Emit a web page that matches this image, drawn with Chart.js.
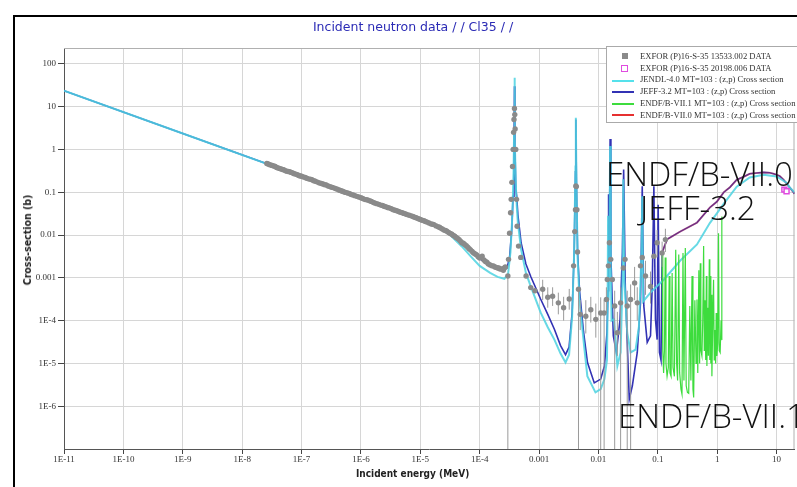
<!DOCTYPE html>
<html><head><meta charset="utf-8">
<script src="https://cdn.jsdelivr.net/npm/chart.js@4.4.1/dist/chart.umd.min.js"></script>
<style>
html,body{margin:0;padding:0;background:#fff;overflow:hidden;width:797px;height:487px}
#wrap{position:absolute;left:0;top:0;width:800px;height:487px}
#c{position:absolute;left:0;top:0}
.ov{position:absolute;white-space:nowrap}
#frame{position:absolute;left:13px;top:15px;width:800px;height:480px;border-left:2px solid #000;border-top:2px solid #000}
#title{left:413px;top:19px;transform:translateX(-50%);font:12.5px "DejaVu Sans",Verdana,sans-serif;color:#2b2bb5}
#xt{left:356px;top:468px;font:bold 10px "DejaVu Sans Condensed","DejaVu Sans",sans-serif;color:#222}
#yt{left:27px;top:240px;font:bold 10.5px "DejaVu Sans Condensed","DejaVu Sans",sans-serif;color:#222;transform:translate(-50%,-50%) rotate(-90deg)}
#legend{position:absolute;left:606px;top:46px;width:200px;height:77px;background:#fff;border:1px solid #aaa;box-sizing:border-box}
.lt{position:absolute;left:33px;font:8.6px "Liberation Serif","Times New Roman",serif;color:#333;line-height:10px}
.ls{position:absolute}
.big{position:absolute;white-space:nowrap;font-family:"Open Sans",sans-serif;font-weight:300;font-size:33px;line-height:33px;color:#111}
</style></head>
<body>
<div id="frame"></div>
<div id="wrap"><canvas id="c" width="800" height="487"></canvas></div>
<div class="ov" id="title">Incident neutron data / / Cl35 / /</div>
<div class="ov" id="xt">Incident energy (MeV)</div>
<div class="ov" id="yt">Cross-section (b)</div>
<div id="legend"></div>
<div class="big" style="left:606px;top:157px">ENDF/B-VII.0</div>
<div class="big" style="left:640px;top:191px">JEFF-3.2</div>
<div class="big" style="left:618px;top:399px">ENDF/B-VII.1</div>
<script>
// ---- tick labels ----
const xTickValues = [1e-11,1e-10,1e-9,1e-8,1e-7,1e-6,1e-5,1e-4,1e-3,1e-2,1e-1,1,10];
const xTickLabels = ['1E-11','1E-10','1E-9','1E-8','1E-7','1E-6','1E-5','1E-4','0.001','0.01','0.1','1','10'];
const yTickValues = [1e-6,1e-5,1e-4,1e-3,1e-2,1e-1,1,10,100];
const yTickLabels = ['1E-6','1E-5','1E-4','0.001','0.01','0.1','1','10','100'];

// ---- legend ----
const seriesNames = [
 'EXFOR  (P)16-S-35 13533.002 DATA',
 'EXFOR  (P)16-S-35 20198.006 DATA',
 'JENDL-4.0  MT=103 : (z,p) Cross section',
 'JEFF-3.2  MT=103 : (z,p) Cross section',
 'ENDF/B-VII.1  MT=103 : (z,p) Cross section',
 'ENDF/B-VII.0  MT=103 : (z,p) Cross section'
];

// ---- data: [energy (MeV), cross-section (b)] ----
const exfor13533 = [
 [2.6e-8,0.47],[2.75e-8,0.455],[2.9e-8,0.44],[3.05e-8,0.43],[3.2e-8,0.42],[3.4e-8,0.41],[3.6e-8,0.40],[3.8e-8,0.38],
 [4.0e-8,0.37],[4.25e-8,0.36],[4.5e-8,0.35],[4.75e-8,0.34],[5.0e-8,0.335],[5.3e-8,0.32],[5.6e-8,0.31],[5.95e-8,0.305],
 [6.3e-8,0.30],[6.7e-8,0.29],[7.1e-8,0.28],[7.5e-8,0.27],[8.0e-8,0.265],[8.5e-8,0.255],[9.0e-8,0.245],[9.5e-8,0.24],
 [1.0e-7,0.235],[1.07e-7,0.228],[1.15e-7,0.22],[1.22e-7,0.212],[1.3e-7,0.205],[1.4e-7,0.2],[1.5e-7,0.195],[1.6e-7,0.186],
 [1.7e-7,0.18],[1.85e-7,0.172],[2.0e-7,0.165],[2.15e-7,0.16],[2.3e-7,0.155],[2.45e-7,0.15],[2.6e-7,0.148],[2.8e-7,0.14],
 [3.0e-7,0.135],[3.2e-7,0.131],[3.4e-7,0.128],[3.7e-7,0.122],[4.0e-7,0.118],[4.25e-7,0.113],[4.5e-7,0.11],[4.75e-7,0.107],
 [5.0e-7,0.104],[5.35e-7,0.1],[5.7e-7,0.098],[6.1e-7,0.095],[6.5e-7,0.092],[6.9e-7,0.088],[7.4e-7,0.086],[7.9e-7,0.083],
 [8.5e-7,0.08],[9.2e-7,0.077],[1.0e-6,0.074],[1.07e-6,0.071],[1.15e-6,0.068],[1.22e-6,0.067],[1.3e-6,0.066],[1.4e-6,0.063],
 [1.5e-6,0.061],[1.6e-6,0.058],[1.7e-6,0.056],[1.85e-6,0.054],[2.0e-6,0.052],[2.15e-6,0.05],[2.3e-6,0.049],[2.45e-6,0.047],
 [2.6e-6,0.046],[2.8e-6,0.044],[3.0e-6,0.043],[3.25e-6,0.041],[3.5e-6,0.039],[3.75e-6,0.038],[4.0e-6,0.037],[4.3e-6,0.0355],
 [4.6e-6,0.034],[4.95e-6,0.033],[5.3e-6,0.032],[5.65e-6,0.031],[6.0e-6,0.030],[6.5e-6,0.029],[7.0e-6,0.028],[7.5e-6,0.027],
 [8.0e-6,0.026],[8.5e-6,0.0252],[9.0e-6,0.0245],[9.5e-6,0.0238],[1.0e-5,0.023],[1.07e-5,0.0222],[1.15e-5,0.0215],[1.22e-5,0.0207],
 [1.3e-5,0.020],[1.4e-5,0.0192],[1.5e-5,0.0182],[1.6e-5,0.0178],[1.7e-5,0.0175],[1.85e-5,0.0163],[2.0e-5,0.0155],[2.1e-5,0.0152],
 [2.2e-5,0.0145],[2.35e-5,0.0138],[2.5e-5,0.013],[2.65e-5,0.0127],[2.8e-5,0.0122],[3.0e-5,0.0114],[3.2e-5,0.0108],[3.4e-5,0.0104],
 [3.6e-5,0.0098],[3.8e-5,0.0094],[4.0e-5,0.0088],[4.25e-5,0.0083],[4.5e-5,0.0078],[4.75e-5,0.0072],[5.0e-5,0.0066],[5.3e-5,0.0064],
 [5.6e-5,0.006],[5.95e-5,0.0056],[6.3e-5,0.0052],[6.65e-5,0.0048],[7.0e-5,0.0045],[7.45e-5,0.0041],[7.9e-5,0.0038],[8.4e-5,0.0036],
 [8.9e-5,0.0034],[9.45e-5,0.0031],[1.0e-4,0.0029],[1.1e-4,0.0032],[1.18e-4,0.0026],[1.25e-4,0.0024],[1.32e-4,0.0023],[1.4e-4,0.0021],
 [1.5e-4,0.002],[1.6e-4,0.0019],[1.7e-4,0.0019],[1.8e-4,0.0018],[1.9e-4,0.00175],[2.0e-4,0.0017],[2.1e-4,0.0017],[2.2e-4,0.0016],
 [2.35e-4,0.0016],[2.5e-4,0.0015],[2.6e-4,0.0017],[2.7e-4,0.0018],[2.98e-4,0.0011],[3.06e-4,0.0027],[3.18e-4,0.011],[3.31e-4,0.033],
 [3.39e-4,0.068],[3.48e-4,0.17],[3.57e-4,0.4],[3.66e-4,1.0],[3.72e-4,2.5],[3.78e-4,5.0],[3.85e-4,9.0],[3.9e-4,6.5],
 [3.95e-4,3.0],[4.05e-4,1.0],[4.17e-4,0.068],[4.27e-4,0.016],[4.51e-4,0.0055],[4.92e-4,0.003],[6.04e-4,0.0011],[7.24e-4,5.9e-4],
 [8.5e-4,5e-4],[1.15e-3,5.4e-4],[1.40e-3,3.5e-4],[1.69e-3,3.7e-4],[2.11e-3,2.6e-4],[2.59e-3,2.0e-4],[3.22e-3,3.2e-4],[3.81e-3,1.9e-3],
 [3.99e-3,0.012],[4.1e-3,0.039],[4.16e-3,0.14],[4.24e-3,0.135],[4.33e-3,0.039],[4.44e-3,0.004],[4.61e-3,5.4e-4],[4.93e-3,1.4e-4],
 [6.12e-3,1.26e-4],[7.43e-3,1.8e-4],[9.02e-3,1.07e-4],[0.0109,1.5e-4],[0.01245,1.5e-4],[0.0136,3.1e-4],[0.0141,9.1e-4],[0.0147,1.9e-3],
 [0.0153,6.6e-3],[0.0161,2.7e-3],[0.0171,9.1e-4],[0.01875,2.2e-4],[0.0208,5.2e-5],[0.0236,2.6e-4],[0.0262,1.7e-3],[0.028,2.7e-3],
 [0.0305,2.2e-4],[0.0348,3.1e-4],[0.0406,7.6e-4],[0.045,2.6e-4],[0.051,1.9e-3],[0.0546,3e-3],[0.0619,1.1e-3],[0.0752,6.3e-4],
 [0.0857,3.2e-3],[0.0973,6.6e-3],[0.118,3.8e-3],[0.134,7.8e-3]
];
// [energy, lower, upper] uncertainty bars of the EXFOR 13533.002 points
const exforErrors = [
 [2.98e-4,1e-9,1.1e-3],[1.15e-3,3e-4,9e-4],[1.40e-3,2e-4,6e-4],[1.69e-3,2.2e-4,6e-4],[2.11e-3,1.4e-4,4.5e-4],
 [2.59e-3,1.0e-4,3.6e-4],[3.22e-3,1.8e-4,5.5e-4],[4.61e-3,1e-9,5.4e-4],[4.93e-3,6e-5,3e-4],[6.12e-3,5e-5,3e-4],
 [7.43e-3,9e-5,3.6e-4],[9.02e-3,4e-5,2.5e-4],[0.0109,1e-9,3.5e-4],[0.01245,1e-9,3e-4],[0.0136,1.5e-4,6e-4],
 [0.01875,1e-9,5e-4],[0.0208,1.5e-5,1.6e-4],[0.0236,1e-9,6e-4],[0.0305,1e-9,5e-4],[0.0348,1e-9,7e-4],
 [0.0406,3e-4,1.8e-3],[0.045,1e-4,6e-4],[0.0619,4e-4,2.5e-3],[0.0752,2.5e-4,1.4e-3],[0.0973,3e-3,1.3e-2],
 [0.118,1.8e-3,7e-3],[0.134,4e-3,1.4e-2]
];
const exfor20198 = [[13.5,0.115],[14.7,0.105]];

const jendl40 = [
 [1e-11,23.5],[1e-9,2.35],[1e-7,0.235],[1e-6,0.074],[1e-5,0.0232],[2e-5,0.0148],[3e-5,0.0108],[5e-5,0.0054],
 [7e-5,0.0032],[1e-4,0.0019],[1.5e-4,0.0013],[2.0e-4,0.00105],[2.6e-4,0.00095],[3.0e-4,0.0012],[3.3e-4,0.004],
 [3.55e-4,0.03],[3.72e-4,0.3],[3.8e-4,3],[3.85e-4,47],[3.92e-4,2],[4.05e-4,0.16],[4.2e-4,0.05],[4.39e-4,0.0195],
 [4.98e-4,0.0046],[6e-4,0.0013],[7.24e-4,6.3e-4],[1.06e-3,1.55e-4],[1.4e-3,7e-5],[1.81e-3,3.6e-5],[2.3e-3,1.7e-5],
 [2.79e-3,1.05e-5],[3.2e-3,1.6e-5],[3.6e-3,1.2e-4],[3.9e-3,0.004],[4.1e-3,0.4],[4.16e-3,5.5],[4.25e-3,0.2],
 [4.45e-3,0.003],[4.8e-3,3e-4],[5.74e-3,2.5e-5],[6.5e-3,5e-6],[8.9e-3,2.1e-6],[0.0109,2.5e-6],[0.0126,4.3e-6],
 [0.0139,1.2e-5],[0.0142,1.2e-4],[0.01452,0.028],[0.0148,3e-4],[0.0153,3e-3],[0.0157,1.2],[0.0161,2e-3],[0.0166,1e-4],
 [0.0183,1.07e-4],[0.0208,8.7e-6],[0.0236,1.8e-5],[0.0255,1e-3],[0.0262,0.2],[0.0272,1e-3],[0.0305,5.2e-5],
 [0.0348,1.8e-5],[0.0422,2.1e-5],[0.048,7.2e-5],[0.0531,3.9e-3],[0.0546,0.08],[0.0565,2.8e-4],[0.0752,4.5e-4],
 [0.1256,9e-4],[0.237,2.5e-3],[0.456,6e-3],[0.75,0.019],[0.986,0.032],[1.29,0.054],[2.13,0.135],[3.52,0.22],
 [6.04,0.257],[10,0.234],[14.7,0.166],[16.5,0.13],[19.2,0.105],[20,0.1]
];
const jeff32 = [
 [1e-11,23.5],[1e-9,2.35],[1e-7,0.235],[1e-6,0.074],[1e-5,0.0235],[2e-5,0.0155],[3e-5,0.0115],[5e-5,0.0064],
 [7e-5,0.0042],[1e-4,0.0028],[1.5e-4,0.0019],[2.0e-4,0.0016],[2.5e-4,0.00155],[2.9e-4,0.0017],[3.2e-4,0.0032],
 [3.45e-4,0.012],[3.65e-4,0.08],[3.78e-4,0.9],[3.85e-4,30],[3.92e-4,1.2],[4.05e-4,0.12],[4.2e-4,0.08],[4.39e-4,0.03],
 [4.98e-4,0.0066],[6e-4,0.0021],[7.24e-4,1.07e-3],[1.06e-3,3.2e-4],[1.4e-3,1.4e-4],[1.81e-3,6.3e-5],[2.3e-3,2.6e-5],
 [2.79e-3,1.6e-5],[3.2e-3,2.4e-5],[3.6e-3,1.5e-4],[3.9e-3,0.004],[4.1e-3,0.3],[4.16e-3,5.0],[4.25e-3,0.2],
 [4.45e-3,0.004],[4.8e-3,5e-4],[5.6e-3,5.5e-5],[6.53e-3,1.05e-5],[8.5e-3,3.5e-6],[0.0109,4.3e-6],[0.0126,8.7e-6],
 [0.0139,5.2e-5],[0.0145,5e-4],[0.0148,0.09],[0.0152,2e-3],[0.0157,1.74],[0.0162,3e-3],[0.0178,4.4e-5],[0.0200,1.8e-5],
 [0.0231,1.07e-4],[0.0253,3.9e-3],[0.02655,0.34],[0.0283,6.3e-4],[0.0330,1.45e-6],[0.0372,3e-6],[0.045,1.8e-5],
 [0.051,2.6e-4],[0.0546,0.138],[0.058,2.2e-4],[0.0662,3.1e-5],[0.0752,4.4e-5],[0.0804,6.3e-4],[0.0857,0.138],
 [0.0912,1.07e-4],[0.0973,3.6e-5],[0.1012,0.051],[0.1064,1.8e-5],[0.113,1.2e-5],[0.118,3.9e-3],[0.143,7.9e-3],
 [0.237,0.012],[0.456,0.0195],[0.753,0.044],[0.986,0.06],[1.29,0.10],[1.63,0.13],[2.13,0.195],[2.79,0.23],
 [3.52,0.27],[4.61,0.28],[6.04,0.29],[7.62,0.285],[8.89,0.27],[11.2,0.24],[13.1,0.195],[16.5,0.13],[19.2,0.10],[20,0.092]
];
const endfb70 = [
 [0.118,3.9e-3],[0.143,7.9e-3],[0.237,0.012],[0.456,0.0195],[0.753,0.044],[0.986,0.06],[1.29,0.10],[1.63,0.13],
 [2.13,0.195],[2.79,0.23],[3.52,0.27],[4.61,0.28],[6.04,0.29],[7.62,0.285],[8.89,0.27],[11.2,0.24],[13.1,0.195],
 [16.5,0.13],[19.2,0.10],[20,0.092]
];
const endfb71 = [
 [0.118,3.9e-3],[0.121,2e-5],[0.125,6e-6],[0.129,2e-5],[0.133,3.0e-3],[0.137,1e-5],[0.143,5e-6],[0.150,8e-6],
 [0.155,1.1e-3],[0.160,6e-6],[0.167,5e-6],[0.174,1.3e-3],[0.180,8e-6],[0.190,5e-6],[0.200,4.5e-3],[0.207,1e-5],
 [0.215,4e-6],[0.225,3.5e-3],[0.233,6e-6],[0.245,2.5e-6],[0.255,1.9e-6],[0.265,3.8e-3],[0.275,4e-6],[0.290,5e-3],
 [0.300,3e-6],[0.315,2.1e-6],[0.331,2e-6],[0.345,2.2e-4],[0.360,4e-6],[0.376,1.1e-3],[0.390,2.5e-6],[0.401,1.6e-6],
 [0.420,3e-4],[0.440,1e-5],[0.456,3.1e-4],[0.470,6e-6],[0.490,1.5e-3],[0.505,1e-5],[0.518,2.2e-3],[0.530,2e-5],
 [0.552,1.5e-5],[0.570,1e-4],[0.590,5.5e-3],[0.605,2e-5],[0.620,3e-4],[0.640,1.2e-5],[0.655,1.1e-3],[0.670,8.7e-6],
 [0.690,2e-4],[0.710,1.5e-5],[0.735,2.7e-3],[0.750,1.2e-5],[0.762,1.1e-3],[0.780,1e-5],[0.800,4e-4],[0.813,5e-6],
 [0.840,9e-5],[0.867,9e-4],[0.890,1.2e-5],[0.915,6e-5],[0.940,1e-5],[0.960,1.5e-4],[0.986,1.5e-5],[1.02,3e-5],
 [1.05,0.011],[1.08,2e-5],[1.12,1.8e-5],[1.16,1e-4],[1.19,0.027],[1.2,3.5e-5]
];

// ---- colours ----
const colExfor = '#8a8a8a', colExfor2 = '#e04ce0', colJendl = 'rgba(76,210,224,0.85)', colJeff = '#3232b4',
      colB71 = '#3ddc3d', colB70 = 'rgba(230,40,40,0.35)';

// legend build
const leg = document.getElementById('legend');
const symbols = [
 '<div class="ls" style="left:15px;top:6px;width:6px;height:6px;background:'+colExfor+'"></div>',
 '<div class="ls" style="left:14px;top:18px;width:5px;height:5px;border:1.5px solid '+colExfor2+'"></div>',
 '<div class="ls" style="left:5px;top:33px;width:22px;height:2px;background:#55e1eb"></div>',
 '<div class="ls" style="left:5px;top:44px;width:22px;height:2px;background:'+colJeff+'"></div>',
 '<div class="ls" style="left:5px;top:56px;width:22px;height:2px;background:'+colB71+'"></div>',
 '<div class="ls" style="left:5px;top:67px;width:22px;height:2px;background:#e63030"></div>'
];
let html = '';
seriesNames.forEach((n,i)=>{ html += symbols[i] + '<div class="lt" style="top:'+(4+i*11.7)+'px">'+n+'</div>'; });
leg.innerHTML = html;

const toXY = arr => arr.map(p => ({x:p[0], y:p[1]}));
const errPts = [];
exforErrors.forEach(e => { errPts.push({x:e[0],y:e[1]},{x:e[0],y:e[2]},{x:e[0],y:null}); });

function decadeLabel(v, vals, labels){
  for (let i=0;i<vals.length;i++){ if (Math.abs(Math.log10(v)-Math.log10(vals[i]))<1e-6) return labels[i]; }
  return null;
}
const gridCol = (vals, labels, col) => ctx => (ctx.tick && decadeLabel(ctx.tick.value, vals, labels)!==null) ? col : 'rgba(0,0,0,0)';

const framePlugin = {id:'frame', beforeDatasetsDraw(chart){
  const {ctx, chartArea:a} = chart; ctx.save(); ctx.strokeStyle='#b0b0b0'; ctx.lineWidth=1;
  ctx.beginPath(); ctx.moveTo(a.left, a.top+0.5); ctx.lineTo(a.right-0.5, a.top+0.5); ctx.lineTo(a.right-0.5, a.bottom); ctx.stroke(); ctx.restore();
}};

new Chart(document.getElementById('c'), {
  type:'scatter',
  data:{datasets:[
    {label:seriesNames[0], data:toXY(exfor13533), pointRadius:2.7, pointBackgroundColor:colExfor, pointBorderWidth:0, order:0},
    {label:seriesNames[1], data:toXY(exfor20198), pointStyle:'rect', pointRadius:3.5, pointBackgroundColor:'#fff', pointBorderColor:colExfor2, pointBorderWidth:1.5, order:0},
    {label:'err', data:errPts, showLine:true, pointRadius:0, borderColor:'#9a9a9a', borderWidth:1, spanGaps:false, order:1},
    {label:seriesNames[4], data:toXY(endfb71), showLine:true, pointRadius:0, borderColor:colB71, borderWidth:1.2, order:2},
    {label:seriesNames[2], data:toXY(jendl40), showLine:true, pointRadius:0, borderColor:colJendl, borderWidth:2, order:3},
    {label:seriesNames[5], data:toXY(endfb70), showLine:true, pointRadius:0, borderColor:colB70, borderWidth:2, order:4},
    {label:seriesNames[3], data:toXY(jeff32), showLine:true, pointRadius:0, borderColor:colJeff, borderWidth:1.6, order:5}
  ]},
  options:{
    responsive:false, animation:false, devicePixelRatio:1,
    layout:{padding:{left:0, top:48, right:2, bottom:0}},
    plugins:{legend:{display:false}, title:{display:false}, tooltip:{enabled:false}},
    scales:{
      x:{type:'logarithmic', min:1e-11, max:20, position:'bottom',
        afterFit(s){ s.height = 38; },
        border:{color:'#555', width:1},
        grid:{color:gridCol(xTickValues,xTickLabels,'#d6d6d6'), tickColor:gridCol(xTickValues,xTickLabels,'#444'), tickLength:5, lineWidth:1},
        ticks:{autoSkip:false, maxRotation:0, minRotation:0, padding:0, color:'#333',
          font:{family:'"Liberation Serif", serif', size:9},
          callback:(v)=>decadeLabel(v, xTickValues, xTickLabels)}
      },
      y:{type:'logarithmic', min:1e-7, max:234,
        afterFit(s){ s.width = 64; },
        border:{color:'#555', width:1},
        grid:{color:gridCol(yTickValues,yTickLabels,'#d6d6d6'), tickColor:gridCol(yTickValues,yTickLabels,'#444'), tickLength:6, lineWidth:1},
        ticks:{autoSkip:false, padding:2, color:'#333',
          font:{family:'"Liberation Serif", serif', size:9},
          callback:(v)=>decadeLabel(v, yTickValues, yTickLabels)}
      }
    }
  },
  plugins:[framePlugin]
});
</script>
</body></html>
